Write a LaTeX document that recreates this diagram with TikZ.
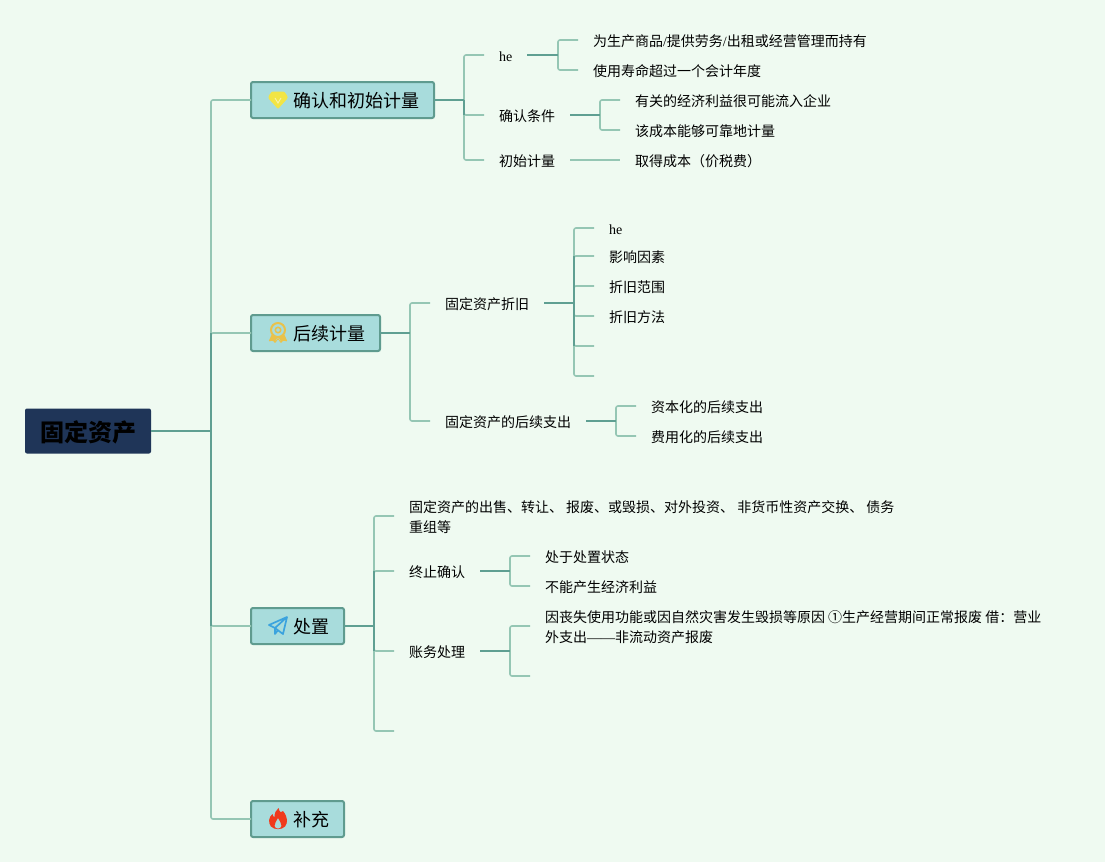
\documentclass[tikz,border=0pt]{standalone}
\usepackage{fontspec}
\setmainfont{Noto Sans CJK SC}
\newfontfamily\latinserif{Liberation Serif}
\definecolor{bgc}{HTML}{EFFAF1}
\definecolor{litec}{HTML}{95C6B4}
\definecolor{darkc}{HTML}{5F9F92}
\definecolor{topicfill}{HTML}{A8DCDC}
\definecolor{topicline}{HTML}{5F9B8F}
\definecolor{rootfill}{HTML}{1F3558}
\definecolor{medalc}{HTML}{E9C24B}
\definecolor{planec}{HTML}{3BA3DE}
\definecolor{flamec}{HTML}{F03A1C}
\definecolor{gemc}{HTML}{F2E545}
\newcommand{\conn}[2]{\draw[liteline] (#1.west) -| (#2);}
\newcommand{\pushdown}{\rule{0pt}{15pt}}
\tikzset{
  liteline/.style={draw=litec,line width=1.6pt,rounded corners=2pt},
  darkline/.style={draw=darkc,line width=1.6pt},
  leaf/.style={inner xsep=15pt,inner ysep=0pt,outer sep=0pt,anchor=west,text height=14pt,text depth=2pt,font=\fontsize{14}{20}\selectfont},
  para/.style={inner xsep=15pt,inner ysep=0pt,outer sep=0pt,anchor=west,align=left,font=\fontsize{14}{20}\selectfont},
  stubend/.style={inner sep=0pt,outer sep=0pt,minimum size=0pt,anchor=west},
  topic/.style={draw=topicline,fill=topicfill,line width=2pt,rounded corners=2pt,anchor=west,outer sep=0pt,inner xsep=15pt,inner ysep=0pt,minimum height=36pt,text height=16pt,text depth=2pt,font=\fontsize{18}{22}\selectfont},
  rootnode/.style={fill=rootfill,rounded corners=2pt,anchor=west,outer sep=0pt,inner xsep=15pt,inner ysep=0pt,minimum height=45pt,text height=21pt,text depth=1pt,font=\fontsize{24}{28}\selectfont\bfseries}
}
\begin{document}
\begin{tikzpicture}[x=1pt,y=-1pt]
\useasboundingbox (0,0) rectangle (1105,862);
\fill[bgc] (0,0) rectangle (1105,862);

% nodes
\node[rootnode] (root) at (25,431) {固定资产};
\node[topic] (t1) at (251,100) {\hspace*{27pt}确认和初始计量};
\node[topic] (t2) at (251,333) {\hspace*{27pt}后续计量};
\node[topic] (t3) at (251,626) {\hspace*{27pt}处置};
\node[topic] (t4) at (251,819) {\hspace*{27pt}补充};

\node[leaf] (a1) at (484,55) {{\latinserif he}};
\node[leaf] (a2) at (484,115) {确认条件};
\node[leaf] (a3) at (484,160) {初始计量};
\node[leaf] (a11) at (578,40) {为生产商品{\latinserif /}提供劳务{\latinserif /}出租或经营管理而持有};
\node[leaf] (a12) at (578,70) {使用寿命超过一个会计年度};
\node[leaf] (a21) at (620,100) {有关的经济利益很可能流入企业};
\node[leaf] (a22) at (620,130) {该成本能够可靠地计量};
\node[leaf] (a31) at (620,160) {取得成本（价税费）};

\node[leaf] (b1) at (430,303) {固定资产折旧};
\node[leaf] (b2) at (430,421) {固定资产的后续支出};
\node[leaf] (b11) at (594,228) {{\latinserif he}};
\node[leaf] (b12) at (594,256) {影响因素};
\node[leaf] (b13) at (594,286) {折旧范围};
\node[leaf] (b14) at (594,316) {折旧方法};
\node[stubend] (b15) at (594,346) {};
\node[stubend] (b16) at (594,376) {};
\node[leaf] (b21) at (636,406) {资本化的后续支出};
\node[leaf] (b22) at (636,436) {费用化的后续支出};

\node[para] (c1) at (394,516) {\pushdown 固定资产的出售、转让、 报废、或毁损、对外投资、 非货币性资产交换、 债务\\重组等};
\node[leaf] (c2) at (394,571) {终止确认};
\node[leaf] (c3) at (394,651) {账务处理};
\node[stubend] (c4) at (394,731) {};
\node[leaf] (c21) at (530,556) {处于处置状态};
\node[leaf] (c22) at (530,586) {不能产生经济利益};
\node[para] (c31) at (530,626) {\pushdown 因丧失使用功能或因自然灾害发生毁损等原因 ①生产经营期间正常报废 借：营业\\外支出{\latinserif ——}非流动资产报废};
\node[stubend] (c32) at (530,676) {};

% buses
\coordinate (busr) at (211,431);
\coordinate (bust1) at (464,100);
\coordinate (bust2) at (410,333);
\coordinate (bust3) at (374,626);
\coordinate (busa1) at (558,55);
\coordinate (busa2) at (600,115);
\coordinate (busb1) at (574,303);
\coordinate (busb2) at (616,421);
\coordinate (busc2) at (510,571);
\coordinate (busc3) at (510,651);

% light branches
\foreach \c in {t1,t2,t3,t4} {\conn{\c}{busr}}
\foreach \c in {a1,a2,a3} {\conn{\c}{bust1}}
\foreach \c in {b1,b2} {\conn{\c}{bust2}}
\foreach \c in {c1,c2,c3,c4} {\conn{\c}{bust3}}
\foreach \c in {a11,a12} {\conn{\c}{busa1}}
\foreach \c in {a21,a22} {\conn{\c}{busa2}}
\foreach \c in {b11,b12,b13,b14,b15,b16} {\conn{\c}{busb1}}
\foreach \c in {b21,b22} {\conn{\c}{busb2}}
\foreach \c in {c21,c22} {\conn{\c}{busc2}}
\foreach \c in {c31,c32} {\conn{\c}{busc3}}
\draw[liteline] (a3.east) -- (a31.west);

% dark stems
\draw[darkline] (root.east) -- (busr);
\draw[darkline] (busr |- t2.west) -- (busr |- t3.west);
\draw[darkline] (t1.east) -- (bust1);
\draw[darkline] (bust1) -- (bust1 |- a2.west);
\draw[darkline] (t2.east) -- (bust2);
\draw[darkline] (t3.east) -- (bust3);
\draw[darkline] (bust3 |- c2.west) -- (bust3 |- c3.west);
\draw[darkline] (a1.east) -- (busa1);
\draw[darkline] (a2.east) -- (busa2);
\draw[darkline] (b1.east) -- (busb1);
\draw[darkline] (busb1 |- b12.west) -- (busb1 |- b15.west);
\draw[darkline] (b2.east) -- (busb2);
\draw[darkline] (c2.east) -- (busc2);
\draw[darkline] (c3.east) -- (busc3);

% icons
\begin{scope}[shift={(278,100)}]
  \fill[gemc,rounded corners=1pt] (-6,-8.5) -- (6,-8.5) -- (9.5,-4) -- (9.5,-1.5) -- (0,9) -- (-9.5,-1.5) -- (-9.5,-4) -- cycle;
  \draw[white!55!gemc,line width=.9pt] (-3,-2) -- (0,3) -- (3,-2);
\end{scope}
\begin{scope}[shift={(278,333)}]
  \fill[medalc,rounded corners=1pt] (-6,1) -- (-9.5,8.5) -- (-5,7.5) -- (-3,10.5) -- (0,6) -- (3,10.5) -- (5,7.5) -- (9.5,8.5) -- (6,1) -- cycle;
  \fill[topicfill] (-2.5,8) -- (-1,5.5) -- (1,5.5) -- (2.5,8) -- (0,5) -- cycle;
  \draw[medalc,line width=2pt,fill=topicfill] (0,-3) circle (7pt);
  \draw[medalc,line width=1.5pt] (0,-3) circle (2.7pt);
\end{scope}
\begin{scope}[shift={(278,626)}]
  \draw[planec,line width=1.7pt,line join=round] (9,-9) -- (-9,-1) -- (-3,2) -- (9,-9) -- (5,8) -- (-3,2) -- (-3,8) -- (0,4);
\end{scope}
\begin{scope}[shift={(278,819)}]
  \fill[flamec,even odd rule] (0.5,-11) .. controls (1.5,-6) and (4,-6) .. (5,-8) .. controls (10,-2) and (10,4) .. (7,7.5) .. controls (4,11) and (-4,11) .. (-7,7.5) .. controls (-10,4) and (-9.5,-2) .. (-5.5,-5) .. controls (-5,-3) and (-4.5,-2) .. (-3.5,-2) .. controls (-3.5,-6) and (-2,-9) .. (0.5,-11) -- cycle
  (0,-1) .. controls (-1,2) and (-4,4) .. (-3.5,7) .. controls (-3,10.5) and (3,10.5) .. (3.5,7) .. controls (4,4) and (1,2) .. (0,-1) -- cycle;
\end{scope}
\end{tikzpicture}
\end{document}
